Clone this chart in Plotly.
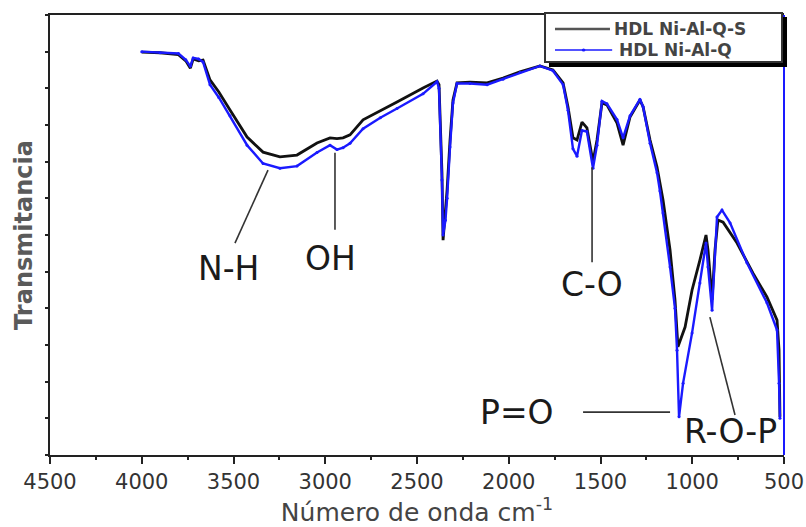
import plotly.graph_objects as go

# Wavenumber (cm^-1) and transmittance (arb. units)
wn_qs = [4000, 3900, 3800, 3760, 3735, 3720, 3690, 3666, 3628, 3580, 3519, 3426, 3339, 3247, 3154,
         3045, 2974, 2936, 2903, 2865, 2794, 2700, 2609, 2467, 2391, 2380, 2364, 2358, 2345, 2336,
         2320, 2304, 2282, 2211, 2118, 2031, 1939, 1830, 1759, 1704, 1677, 1650, 1628, 1601, 1574,
         1541, 1519, 1492, 1465, 1410, 1377, 1339, 1285, 1268, 1230, 1192, 1159, 1121, 1094, 1078,
         1039, 1001, 958, 925, 914, 892, 876, 860, 832, 756, 669, 593, 538, 527, 522]
t_qs = [109.9, 109.7, 109.2, 107.5, 105.5, 108.0, 107.5, 107.7, 102.3, 99.0, 94.1, 86.7, 82.6, 81.3, 81.8,
        85.1, 86.5, 86.3, 86.5, 87.3, 91.4, 94.0, 96.3, 100.1, 102.0, 101.0, 77.0, 58.6, 66.0, 72.3,
        85.9, 96.8, 101.5, 101.7, 101.5, 102.8, 104.5, 106.1, 105.0, 101.5, 94.9, 86.5, 85.9, 90.8, 89.2,
        80.0, 85.9, 96.0, 95.5, 90.5, 84.5, 92.2, 96.8, 95.0, 85.9, 78.5, 69.5, 55.9, 42.3, 29.5,
        34.9, 45.0, 53.2, 60.0, 55.9, 42.3, 55.9, 64.1, 63.5, 57.8, 49.6, 43.1, 36.8, 28.6, 10.4]

wn_q = [4000, 3900, 3800, 3760, 3735, 3720, 3690, 3666, 3628, 3580, 3519, 3426, 3339, 3247, 3154,
        3045, 2974, 2936, 2903, 2865, 2794, 2700, 2609, 2467, 2391, 2380, 2364, 2358, 2345, 2336,
        2320, 2304, 2282, 2211, 2118, 2031, 1939, 1830, 1759, 1704, 1677, 1650, 1628, 1601, 1574,
        1541, 1519, 1492, 1465, 1410, 1377, 1339, 1285, 1268, 1230, 1192, 1176, 1159, 1121, 1094,
        1083, 1072, 1050, 1001, 958, 925, 914, 892, 865, 838, 794, 702, 593, 538, 527, 522]
t_q = [110.0, 109.7, 109.5, 107.8, 106.0, 108.3, 108.0, 107.2, 101.0, 97.5, 92.5, 84.5, 79.5, 78.2, 78.8,
       82.5, 84.5, 83.3, 83.8, 85.0, 89.0, 92.0, 94.5, 98.5, 101.8, 100.0, 75.0, 60.0, 64.0, 70.0,
       84.0, 96.0, 101.3, 101.3, 101.0, 102.5, 104.3, 106.1, 104.8, 101.0, 94.0, 83.5, 81.5, 88.5, 88.2,
       78.2, 84.5, 96.5, 95.8, 91.5, 86.5, 92.5, 97.0, 95.0, 85.0, 77.0, 72.0, 66.0, 51.3, 40.0,
       28.6, 10.4, 19.6, 33.3, 46.9, 57.8, 51.3, 39.5, 64.9, 66.8, 63.3, 52.4, 41.5, 34.1, 19.6, 10.0]

series_names = ["HDL Ni-Al-Q-S", "HDL Ni-Al-Q"]
series_colors = ["#111111", "#1a1aff"]
x_ticks = [4500, 4000, 3500, 3000, 2500, 2000, 1500, 1000, 500]

# Band labels: (text, wavenumber, transmittance) and leader lines
band_labels = [("N-H", 3530, 51.0), ("OH", 2974, 53.7), ("C-O", 1546, 46.4),
               ("P=O", 1955, 11.7), ("R-O-P", 794, 6.3)]
leaders = [((3492, 57.8), (3312, 77.7)), ((2947, 61.4), (2947, 82.4)), ((1546, 52.6), (1546, 78.5)),
           ((1595, 11.7), (1121, 11.7)), ((904, 37.6), (767, 10.9))]

TXT = "DejaVu Sans"

fig = go.Figure()
fig.add_trace(go.Scatter(x=wn_qs, y=t_qs, mode="lines", name=series_names[0], showlegend=False,
                         line=dict(color=series_colors[0], width=2.8)))
fig.add_trace(go.Scatter(x=wn_q, y=t_q, mode="lines+markers", name=series_names[1], showlegend=False,
                         line=dict(color=series_colors[1], width=2.4),
                         marker=dict(size=3, color=series_colors[1])))

for txt, xx, yy in band_labels:
    fig.add_annotation(x=xx, y=yy, text=txt, showarrow=False,
                       font=dict(family=TXT, size=33, color="#1a1a1a"))
for (a, b) in leaders:
    fig.add_shape(type="line", x0=a[0], y0=a[1], x1=b[0], y1=b[1],
                  line=dict(color="#333333", width=1.6))

# blue right frame
fig.add_shape(type="line", xref="paper", yref="paper", x0=1, x1=1, y0=0, y1=1,
              line=dict(color="#1a1aff", width=2))

# legend (drawn manually: shadowed box, line samples and names)
fig.add_shape(type="rect", xref="paper", yref="paper", x0=0.6798, x1=1.0041, y0=0.8818, y1=0.9955,
              fillcolor="black", line=dict(width=0), layer="above")
fig.add_shape(type="rect", xref="paper", yref="paper", x0=0.6744, x1=0.9973, y0=0.8932, y1=1.0045,
              fillcolor="white", line=dict(color="#333333", width=2), layer="above")
leg_y = [0.9682, 0.9205]
leg_x_text = [0.7657, 0.7725]
for i, nm in enumerate(series_names):
    fig.add_shape(type="line", xref="paper", yref="paper", x0=0.688, x1=0.7629 + 0.003 * i,
                  y0=leg_y[i], y1=leg_y[i], line=dict(color="#555555" if i == 0 else series_colors[1],
                                                      width=2.5 if i == 0 else 1.6), layer="above")
    fig.add_annotation(xref="paper", yref="paper", x=leg_x_text[i], y=leg_y[i], text="<b>%s</b>" % nm,
                       showarrow=False, xanchor="left", yanchor="middle",
                       font=dict(family=TXT, size=17, color="#444444"))
fig.add_shape(type="circle", xref="paper", yref="paper", x0=0.7245, x1=0.7295, y0=0.917, y1=0.924,
              fillcolor=series_colors[1], line=dict(width=0), layer="above")

fig.update_layout(
    width=806, height=527,
    margin=dict(l=50, r=22, t=15, b=72, autoexpand=False),
    paper_bgcolor="white", plot_bgcolor="white",
    font=dict(family=TXT, color="#333333"),
    showlegend=False,
    xaxis=dict(range=[4500, 500], tickvals=x_ticks, ticktext=[str(v) for v in x_ticks],
               automargin=False,
               showgrid=False, zeroline=False, showline=True, linecolor="#222222", linewidth=2,
               mirror=True, ticks="outside", ticklen=7, tickwidth=2, tickcolor="#222222",
               minor=dict(dtick=250, ticks="outside", ticklen=3, tickwidth=2, tickcolor="#222222"),
               tickfont=dict(family=TXT, size=21, color="#333333"),
               title=dict(text="Número de onda cm<sup>-1</sup>",
                          font=dict(family=TXT, size=25, color="#444444"), standoff=12)),
    yaxis=dict(range=[0, 120], dtick=10, showticklabels=False, showgrid=False, zeroline=False,
               automargin=False,
               showline=True, linecolor="#222222", linewidth=2, ticks="outside", ticklen=3,
               tickwidth=2, tickcolor="#222222",
               title=dict(text="<b>Transmitancia</b>", font=dict(family=TXT, size=24, color="#5a5a5a"),
                          standoff=6)),
)

fig.write_html("out.html")
